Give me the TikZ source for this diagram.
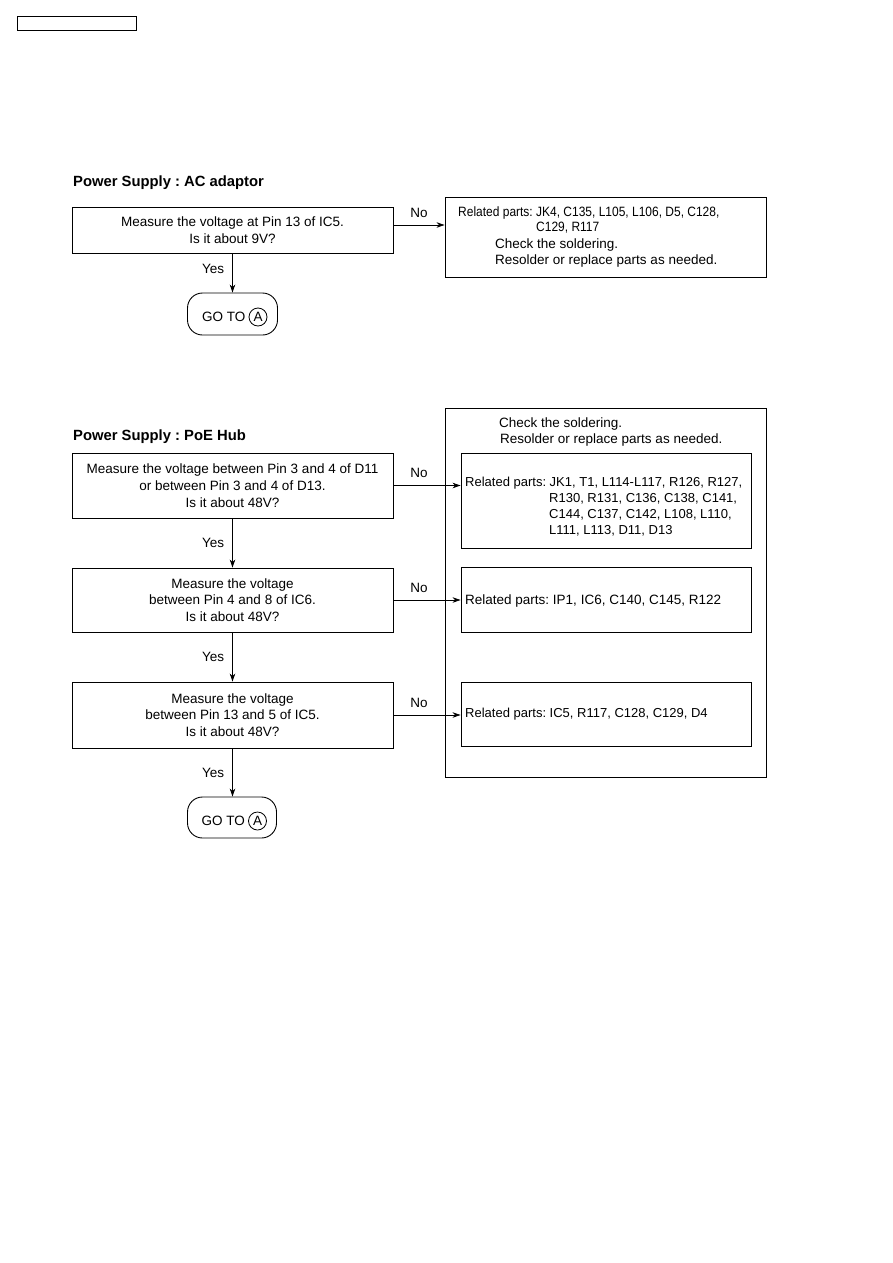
\documentclass[tikz,border=0pt]{standalone}
\usepackage{fontspec}
\setmainfont{Liberation Sans}
\usetikzlibrary{arrows.meta}
\frenchspacing
\begin{document}
\begin{tikzpicture}[x=1pt,y=-1pt,
  box/.style={draw, line width=0.9pt, inner sep=0pt},
  qbox/.style={box, minimum width=321pt, align=center, font=\fontsize{13.5}{16.8}\selectfont\frenchspacing},
  txt/.style={inner sep=0pt, font=\fontsize{13.5}{16.8}\selectfont\frenchspacing},
  stxt/.style={inner sep=0pt, font=\fontsize{13}{16}\selectfont\frenchspacing},
  ttl/.style={inner sep=0pt, font=\fontsize{14.8}{17}\selectfont\bfseries\frenchspacing},
  arr/.style={line width=0.8pt, -{Stealth[length=8pt,width=5.5pt]}},
  gobox/.style={box, rounded corners=15pt, minimum width=90pt, minimum height=42pt},
  circ/.style={draw, circle, line width=0.8pt, minimum size=18pt, inner sep=0pt, font=\fontsize{13.5}{16.8}\selectfont}
]
\useasboundingbox[fill=white] (0,0) rectangle (893,1263);

% header box
\node[box, minimum width=119pt, minimum height=14pt] (hdr) at (76.5,23) {};

% ---------- AC adaptor ----------
\node[ttl, anchor=base west] (t1) at (73,186) {Power Supply : AC adaptor};
\node[qbox, minimum height=46pt] (q1) at (232.5,230) {Measure the voltage at Pin 13 of IC5.\\Is it about 9V?};
\node[box, minimum width=321pt, minimum height=80pt] (r1) at (605.5,237) {};
\node[txt, anchor=base west] (r1a) at (458,216.5) {\scalebox{0.888}[1]{Related parts: JK4, C135, L105, L106, D5, C128,}};
\node[txt, anchor=base west] (r1b) at (536,231) {\scalebox{0.888}[1]{C129, R117}};
\node[txt, anchor=base west] (r1c) at (495,248) {Check the soldering.};
\node[txt, anchor=base west] (r1d) at (495,264.5) {Resolder or replace parts as needed.};
\node[gobox] (go1) at (232.5,314) {};
\node[txt, anchor=base west] (go1t) at (202,321.5) {GO TO};
\node[circ] (go1a) at (258,317) {A};

\draw[arr] ([yshift=5pt]q1.east) -- ([yshift=5pt]q1.east -| r1.west)
  node[txt, midway, above=7pt] (n1) {No};
\draw[arr] (q1.south) -- (go1.north)
  node[txt, pos=0.4, left=8pt] (y1) {Yes};

% ---------- PoE Hub ----------
\node[ttl, anchor=base west] (t2) at (73,440) {Power Supply : PoE Hub};
\node[qbox, minimum height=65pt] (q2) at (232.5,485.5) {Measure the voltage between Pin 3 and 4 of D11\\or between Pin 3 and 4 of D13.\\Is it about 48V?};
\node[qbox, minimum height=64pt] (q3) at (232.5,600) {Measure the voltage\\between Pin 4 and 8 of IC6.\\Is it about 48V?};
\node[qbox, minimum height=66pt] (q4) at (232.5,715) {Measure the voltage\\between Pin 13 and 5 of IC5.\\Is it about 48V?};
\node[gobox, minimum width=89pt, minimum height=41pt] (go2) at (232,817.5) {};
\node[txt, anchor=base west] (go2t) at (201.5,825.5) {GO TO};
\node[circ] (go2a) at (257.5,821) {A};

\node[box, minimum width=321pt, minimum height=369pt] (outer) at (605.5,592.5) {};
\node[txt, anchor=base west] (oc1) at (499,427.5) {Check the soldering.};
\node[txt, anchor=base west] (oc2) at (500,443) {Resolder or replace parts as needed.};

\node[box, minimum width=290pt, minimum height=95pt] (i1) at (606,500.5) {};
\node[stxt, anchor=base west] (i1a) at (465,486.7) {Related parts: JK1, T1, L114-L117, R126, R127,};
\node[stxt, anchor=base west] (i1b) at (549,502.5) {R130, R131, C136, C138, C141,};
\node[stxt, anchor=base west] (i1c) at (549,518.5) {C144, C137, C142, L108, L110,};
\node[stxt, anchor=base west] (i1d) at (549,534.5) {L111, L113, D11, D13};

\node[box, minimum width=290pt, minimum height=65pt] (i2) at (606,599.5) {};
\node[txt, anchor=base west] (i2a) at (465,604.7) {Related parts: IP1, IC6, C140, C145, R122};

\node[box, minimum width=290pt, minimum height=64pt] (i3) at (606,714) {};
\node[stxt, anchor=base west] (i3a) at (465,717.7) {Related parts: IC5, R117, C128, C129, D4};

\draw[arr] (q2.east) -- (q2.east -| i1.west)
  node[txt, pos=0.38, above=7pt] (n2) {No};
\draw[arr] (q3.east) -- (q3.east -| i2.west)
  node[txt, pos=0.38, above=7pt] (n3) {No};
\draw[arr] (q4.east) -- (q4.east -| i3.west)
  node[txt, pos=0.38, above=7pt] (n4) {No};

\draw[arr] (q2.south) -- (q3.north)
  node[txt, midway, left=8pt] (y2) {Yes};
\draw[arr] (q3.south) -- (q4.north)
  node[txt, midway, left=8pt] (y3) {Yes};
\draw[arr] (q4.south) -- (q4.south |- go2.north)
  node[txt, midway, left=8pt] (y4) {Yes};
\end{tikzpicture}
\end{document}
